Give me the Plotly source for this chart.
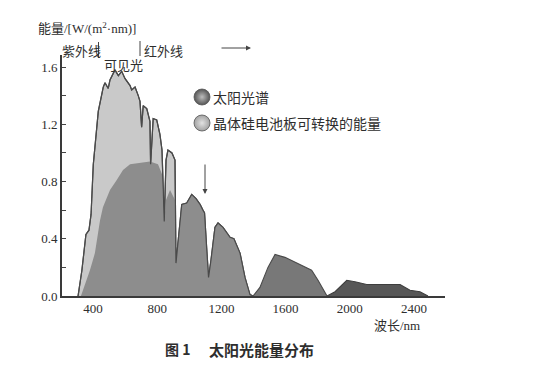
import plotly.graph_objects as go

# ---- data (wavelength in nm, energy in W/(m^2·nm)) ----
band1_wl = [307, 331, 356, 375, 388, 402, 433, 464, 475, 495, 506, 526, 537, 558, 579,
            599, 631, 641, 662, 682, 693, 703, 713, 735, 755, 759, 775, 797, 817, 830,
            844, 855, 867, 892, 911, 917, 953, 984, 1015, 1042, 1067, 1085, 1095, 1108, 1120,
            1135, 1160, 1179, 1210, 1254, 1278, 1316, 1347, 1378, 1397]
band1_e = [0, 0.18, 0.43, 0.46, 0.57, 0.92, 1.29, 1.46, 1.49, 1.45, 1.51, 1.56, 1.58, 1.54, 1.57,
           1.52, 1.47, 1.44, 1.46, 1.40, 1.36, 1.18, 1.33, 1.31, 1.22, 0.92, 1.24, 1.23, 1.13, 1.02,
           0.52, 0.95, 1.02, 1.00, 0.95, 0.23, 0.64, 0.65, 0.71, 0.68, 0.64, 0.60, 0.58, 0.34, 0.13,
           0.25, 0.48, 0.51, 0.48, 0.41, 0.40, 0.30, 0.13, 0.01, 0]

band2_wl = [1397, 1440, 1490, 1534, 1596, 1671, 1762, 1802, 1845, 1858]
band2_e = [0, 0.06, 0.20, 0.29, 0.27, 0.23, 0.18, 0.11, 0.02, 0]

band3_wl = [1858, 1908, 1981, 2032, 2105, 2313, 2375, 2437, 2487]
band3_e = [0, 0.03, 0.11, 0.10, 0.08, 0.08, 0.04, 0.03, 0]

si_wl = [325, 350, 381, 412, 444, 462, 506, 548, 587, 631, 693, 755, 805, 830, 844, 855, 880, 911, 917]
si_e = [0, 0.08, 0.18, 0.30, 0.53, 0.62, 0.74, 0.81, 0.88, 0.92, 0.93, 0.94, 0.92, 0.85, 0.52,
        0.67, 0.74, 0.67, 0.23]

x_ticks = [400, 800, 1200, 1600, 2000, 2400]
y_ticks = [0.0, 0.4, 0.8, 1.2, 1.6]
y_labels = ["0.0", "0.4", "0.8", "1.2", "1.6"]

legend_names = ["太阳光谱", "晶体硅电池板可转换的能量"]

# ---- layout geometry (page body adds an 8px offset) ----
OFF = 8
W, H = 560, 372
L, R, T, B = 62 - OFF, 115 + OFF, 55 - OFF, 76 + OFF
XR = [207, 2593]
YR = [0, 1.684]
PW, PH = W - L - R, H - T - B

def px(x):  # screen pixel x -> paper
    return (x - OFF - L) / PW

def py(y):  # screen pixel y -> paper
    return (H - B - (y - OFF)) / PH

def dx(x):  # screen pixel x -> data x
    return XR[0] + px(x) * (XR[1] - XR[0])

def dy(y):  # screen pixel y -> data y
    return YR[0] + py(y) * (YR[1] - YR[0])

LIGHT = "#c9c9c9"
DARK = "#8d8d8d"
EDGE = "#4a4a4a"
TXT = "#2e2e2e"
SERIF = "Liberation Serif, Noto Sans CJK SC, serif"
CJK = "Noto Sans CJK SC, sans-serif"

fig = go.Figure()

# solar spectrum (light fill)
fig.add_trace(go.Scatter(x=band1_wl, y=band1_e, mode="lines", fill="tozeroy",
                         fillcolor=LIGHT, line=dict(color=EDGE, width=1.2),
                         showlegend=False, hoverinfo="skip"))
# silicon-convertible region (dark fill), continuing with the spectrum beyond
dark_wl = si_wl + [w for w in band1_wl if w > si_wl[-1]]
dark_e = si_e + [e for w, e in zip(band1_wl, band1_e) if w > si_wl[-1]]
fig.add_trace(go.Scatter(x=dark_wl, y=dark_e, mode="lines", fill="tozeroy",
                         fillcolor=DARK, line=dict(width=0),
                         showlegend=False, hoverinfo="skip"))
# outline redrawn on top
fig.add_trace(go.Scatter(x=band1_wl, y=band1_e, mode="lines",
                         line=dict(color=EDGE, width=1.2),
                         showlegend=False, hoverinfo="skip"))
fig.add_trace(go.Scatter(x=band2_wl, y=band2_e, mode="lines", fill="tozeroy",
                         fillcolor="#787878", line=dict(color=EDGE, width=1.1),
                         showlegend=False, hoverinfo="skip"))
fig.add_trace(go.Scatter(x=band3_wl, y=band3_e, mode="lines", fill="tozeroy",
                         fillcolor="#575757", line=dict(color="#3e3e3e", width=1.1),
                         showlegend=False, hoverinfo="skip"))

# legend swatches (sphere-like markers)
sw = [("#555555", "#bdbdbd", 97), ("#a2a2a2", "#e2e2e2", 123)]
for (outer, inner, yy), name in zip(sw, legend_names):
    fig.add_trace(go.Scatter(x=[dx(202)], y=[dy(yy)], mode="markers",
                             marker=dict(size=16, color=outer, symbol="circle",
                                         gradient=dict(type="radial", color=inner),
                                         line=dict(color="#555555", width=0.8)),
                             showlegend=False, hoverinfo="skip", cliponaxis=False))

annotations = []
for (outer, inner, yy), name in zip(sw, legend_names):
    annotations.append(dict(x=px(211), y=py(yy), xref="paper", yref="paper",
                            text=name, showarrow=False, xanchor="left", yanchor="middle",
                            font=dict(family=CJK, size=14, color=TXT)))

# axis titles and labels
annotations += [
    dict(x=px(36), y=py(28), xref="paper", yref="paper",
         text="能量/[W/(m<sup>2</sup>·nm)]", showarrow=False, xanchor="left", yanchor="middle",
         font=dict(family=SERIF, size=13, color=TXT)),
    dict(x=px(372), y=py(325), xref="paper", yref="paper",
         text="波长/nm", showarrow=False, xanchor="left", yanchor="middle",
         font=dict(family=SERIF, size=13, color=TXT)),
    dict(x=px(60), y=py(50), xref="paper", yref="paper",
         text="紫外线", showarrow=False, xanchor="left", yanchor="middle",
         font=dict(family=CJK, size=13, color=TXT)),
    dict(x=px(102), y=py(65), xref="paper", yref="paper",
         text="可见光", showarrow=False, xanchor="left", yanchor="middle",
         font=dict(family=CJK, size=13, color=TXT)),
    dict(x=px(142), y=py(50), xref="paper", yref="paper",
         text="红外线", showarrow=False, xanchor="left", yanchor="middle",
         font=dict(family=CJK, size=13, color=TXT)),
    dict(x=px(163), y=py(349), xref="paper", yref="paper",
         text="<b>图 1</b>", showarrow=False, xanchor="left", yanchor="middle",
         font=dict(family=CJK, size=14, color=TXT)),
    dict(x=px(207), y=py(349), xref="paper", yref="paper",
         text="<b>太阳光能量分布</b>", showarrow=False, xanchor="left", yanchor="middle",
         font=dict(family=CJK, size=15, color=TXT)),
    # right arrow
    dict(x=px(251), y=py(48), xref="paper", yref="paper", text="",
         showarrow=True, ax=-31, ay=0, arrowhead=2, arrowsize=1, arrowwidth=1,
         arrowcolor="#444444"),
    # down arrow at 1100 nm
    dict(x=px(205), y=py(194), xref="paper", yref="paper", text="",
         showarrow=True, ax=0, ay=-31, arrowhead=2, arrowsize=1, arrowwidth=1,
         arrowcolor="#444444"),
]

shapes = [
    dict(type="line", xref="paper", yref="paper", x0=px(98.5), x1=px(98.5),
         y0=py(42), y1=py(58), line=dict(color="#444444", width=1)),
    dict(type="line", xref="paper", yref="paper", x0=px(140), x1=px(140),
         y0=py(41), y1=py(56), line=dict(color="#444444", width=1)),
]

fig.update_layout(
    width=W, height=H, autosize=False,
    margin=dict(l=L, r=R, t=T, b=B),
    paper_bgcolor="white", plot_bgcolor="white",
    showlegend=False,
    annotations=annotations, shapes=shapes,
    xaxis=dict(range=XR, tickvals=x_ticks, ticktext=[str(v) for v in x_ticks],
               showgrid=False, zeroline=False, showline=True, linecolor="#3a3a3a",
               linewidth=1.6, ticks="", tickfont=dict(family=SERIF, size=13, color=TXT)),
    yaxis=dict(range=YR, tickvals=y_ticks, ticktext=y_labels,
               showgrid=False, zeroline=False, showline=True, linecolor="#3a3a3a",
               linewidth=1.6, ticks="inside", ticklen=4, tickcolor="#444444",
               tickfont=dict(family=SERIF, size=13, color=TXT),
               minor=dict(dtick=0.2, ticks="inside", ticklen=4, tickcolor="#444444")),
)

fig.write_html("out.html")
